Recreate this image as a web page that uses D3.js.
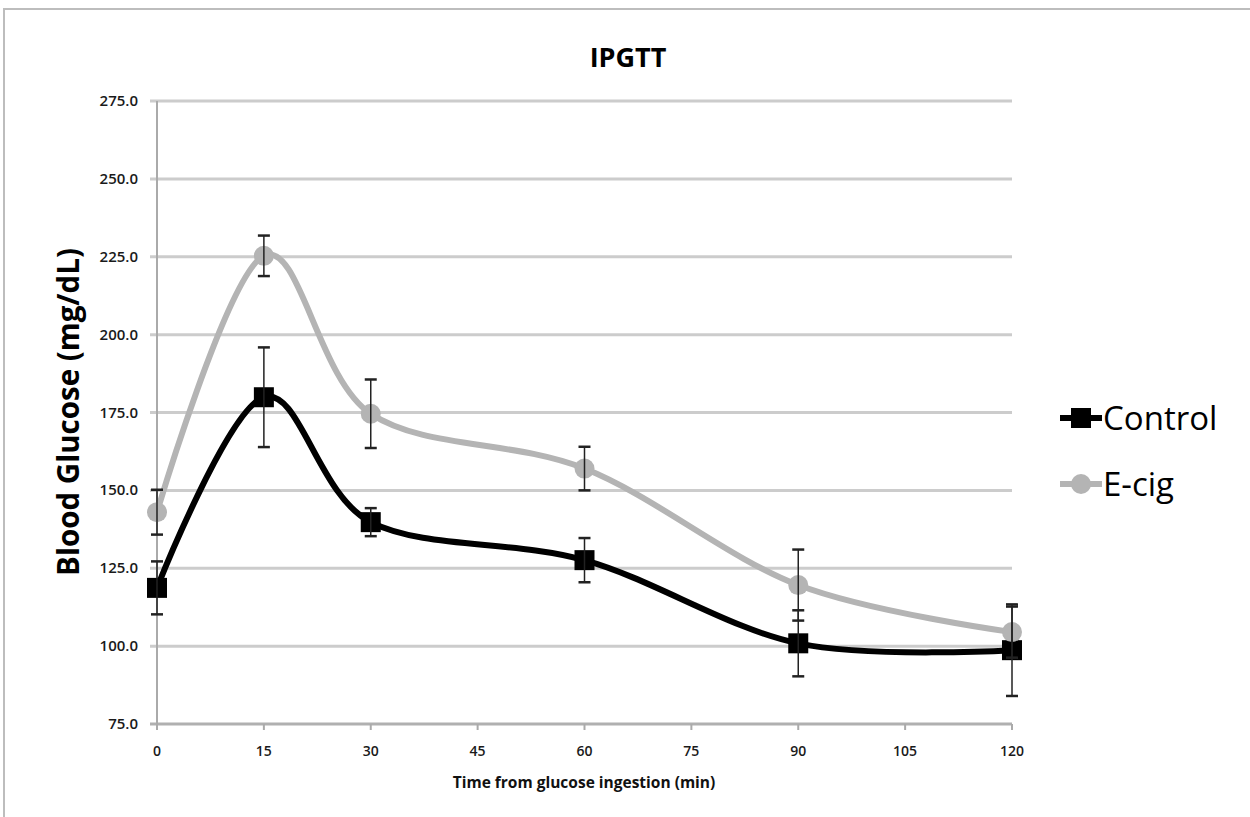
<!DOCTYPE html>
<html>
<head>
<meta charset="utf-8">
<script src="https://cdnjs.cloudflare.com/ajax/libs/d3/7.8.5/d3.min.js"></script>
<style>
  body { margin: 0; background: #fff; }
  svg text { font-family: "Open Sans", "DejaVu Sans", sans-serif; }
</style>
</head>
<body>
<div id="svg-container"></div>
<script>
var times = [0, 15, 30, 60, 90, 120];
var controlMean = [118.7, 179.9, 139.8, 127.6, 100.9, 98.7];
var controlErr  = [8.5, 16, 4.5, 7.1, 10.6, 14.7];
var ecigMean = [143, 225.3, 174.6, 157, 119.6, 104.5];
var ecigErr  = [7.2, 6.5, 11, 7, 11.4, 8.2];
var xTicks = [0, 15, 30, 45, 60, 75, 90, 105, 120];
var yTicks = [75, 100, 125, 150, 175, 200, 225, 250, 275];

var width = 1250,
    height = 817;

var svg = d3.select("#svg-container")
            .append("svg")
            .attr("width", width)
            .attr("height", height);

// outer chart frame
svg.append("path")
   .attr("d", "M4,817 L4,9 L1250,9")
   .attr("fill", "none")
   .attr("stroke", "#bdbdbd")
   .attr("stroke-width", 2);

var x = d3.scaleLinear().domain([0, 120]).range([157, 1012]);
var y = d3.scaleLinear().domain([75, 275]).range([724, 101]);

// horizontal gridlines
svg.selectAll(".grid")
   .data(yTicks)
   .enter()
   .append("line")
   .attr("x1", x(0) - 7)
   .attr("x2", x(120))
   .attr("y1", function(d){ return y(d); })
   .attr("y2", function(d){ return y(d); })
   .attr("stroke", function(d){ return d == 75 ? "#b0b0b0" : "#cccccc"; })
   .attr("stroke-width", 3);

// left axis line
svg.append("line")
   .attr("x1", x(0)).attr("x2", x(0))
   .attr("y1", y(275)).attr("y2", y(75) + 6)
   .attr("stroke", "#aaaaaa")
   .attr("stroke-width", 2);

// x ticks
svg.selectAll(".xtick")
   .data(xTicks)
   .enter()
   .append("line")
   .attr("x1", function(d){ return x(d); })
   .attr("x2", function(d){ return x(d); })
   .attr("y1", y(75))
   .attr("y2", y(75) + 6)
   .attr("stroke", "#aaaaaa")
   .attr("stroke-width", 2);

svg.selectAll(".xlabel")
   .data(xTicks)
   .enter()
   .append("text")
   .attr("x", function(d){ return x(d); })
   .attr("y", 756)
   .attr("text-anchor", "middle")
   .attr("font-size", 14)
   .attr("font-weight", 600)
   .attr("fill", "#1a1a1a")
   .text(function(d){ return d; });

svg.selectAll(".ylabel")
   .data(yTicks)
   .enter()
   .append("text")
   .attr("x", 138)
   .attr("y", function(d){ return y(d) + 5; })
   .attr("text-anchor", "end")
   .attr("font-size", 15)
   .attr("font-weight", 600)
   .attr("fill", "#1a1a1a")
   .text(function(d){ return d.toFixed(1); });

svg.append("text")
   .attr("x", 584).attr("y", 788)
   .attr("text-anchor", "middle")
   .attr("font-size", 15.5)
   .attr("font-weight", "bold")
   .attr("fill", "#111")
   .text("Time from glucose ingestion (min)");

svg.append("text")
   .attr("transform", "translate(79,412) rotate(-90)")
   .attr("text-anchor", "middle")
   .attr("font-size", 29.5)
   .attr("font-weight", "bold")
   .attr("fill", "#000")
   .text("Blood Glucose (mg/dL)");

svg.append("text")
   .attr("x", 628).attr("y", 67)
   .attr("text-anchor", "middle")
   .attr("font-size", 27)
   .attr("font-weight", "bold")
   .attr("fill", "#000")
   .text("IPGTT");

var series = [
  {name: "Control", mean: controlMean, err: controlErr, color: "#000000", shape: "square"},
  {name: "E-cig", mean: ecigMean, err: ecigErr, color: "#b4b4b4", shape: "circle"}
];

var line = d3.line()
             .x(function(d){ return x(d[0]); })
             .y(function(d){ return y(d[1]); })
             .curve(d3.curveCardinal.tension(0));

series.slice().reverse().forEach(function(s){
  var pts = times.map(function(t, i){ return [t, s.mean[i]]; });
  svg.append("path")
     .datum(pts)
     .attr("d", line)
     .attr("fill", "none")
     .attr("stroke", s.color)
     .attr("stroke-width", 6);
});

series.forEach(function(s){
  var pts = times.map(function(t, i){ return {t: t, v: s.mean[i]}; });
  if (s.shape == "square") {
    svg.selectAll(".m" + s.name)
       .data(pts).enter().append("rect")
       .attr("x", function(d){ return x(d.t) - 10; })
       .attr("y", function(d){ return y(d.v) - 10; })
       .attr("width", 20).attr("height", 20)
       .attr("fill", s.color);
  } else {
    svg.selectAll(".m" + s.name)
       .data(pts).enter().append("circle")
       .attr("cx", function(d){ return x(d.t); })
       .attr("cy", function(d){ return y(d.v); })
       .attr("r", 10)
       .attr("fill", s.color);
  }
});

// error bars
series.forEach(function(s){
  times.forEach(function(t, i){
    var cx = x(t), hi = y(s.mean[i] + s.err[i]), lo = y(s.mean[i] - s.err[i]);
    var g = svg.append("g").attr("stroke", "#222").attr("stroke-width", 1.5);
    g.append("line").attr("x1", cx).attr("x2", cx).attr("y1", hi).attr("y2", lo);
    g.append("line").attr("x1", cx - 6).attr("x2", cx + 6).attr("y1", hi).attr("y2", hi).attr("stroke-width", 2.5);
    g.append("line").attr("x1", cx - 6).attr("x2", cx + 6).attr("y1", lo).attr("y2", lo).attr("stroke-width", 2.5);
  });
});

// legend
series.forEach(function(s, i){
  var ly = 418 + i * 66;
  svg.append("line")
     .attr("x1", 1060).attr("x2", 1102)
     .attr("y1", ly).attr("y2", ly)
     .attr("stroke", s.color).attr("stroke-width", 6);
  if (s.shape == "square") {
    svg.append("rect").attr("x", 1071).attr("y", ly - 10).attr("width", 20).attr("height", 20).attr("fill", s.color);
  } else {
    svg.append("circle").attr("cx", 1081).attr("cy", ly).attr("r", 10).attr("fill", s.color);
  }
  svg.append("text")
     .attr("x", 1103).attr("y", ly + 12)
     .attr("font-size", 33)
     .attr("fill", "#000")
     .text(s.name);
});
</script>
</body>
</html>
